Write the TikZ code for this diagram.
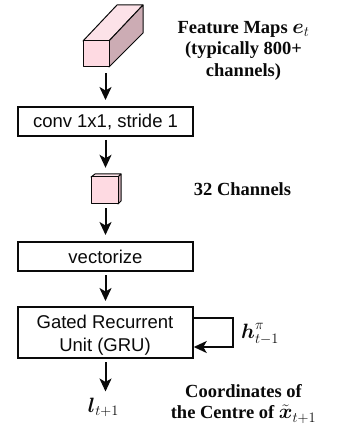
\documentclass[tikz,border=0pt]{standalone}
\usepackage{amsmath}
\usepackage{fontspec}
\setmainfont{Liberation Serif}
\setsansfont{Liberation Sans}
\usetikzlibrary{arrows.meta,calc}
\DeclareMathSizes{18.5}{20}{14}{10}
\DeclareMathSizes{21}{21}{15}{11}
\definecolor{facepink}{RGB}{254,218,226}
\definecolor{sidepink}{RGB}{204,172,180}
\definecolor{toppink}{RGB}{252,226,232}
\definecolor{inkblack}{RGB}{10,10,10}
\tikzset{
  x=1pt,y=-1pt,
  layerbox/.style={draw=inkblack,line width=2pt,fill=white,minimum width=174.5pt,inner sep=0pt,align=center,font=\sffamily\fontsize{18.5}{23}\selectfont,text=inkblack},
  boxtext/.style={inner sep=0pt,align=center,font=\sffamily\fontsize{18.5}{23}\selectfont,text=inkblack},
  flow/.style={draw=inkblack,line width=2pt,-{Stealth[length=13pt,width=12pt,inset=3.5pt]}},
  face/.style={draw=inkblack,line width=1pt,line join=round},
  note/.style={align=center,inner sep=0pt,font=\bfseries\fontsize{18.5}{21.5}\selectfont,text=inkblack},
  mathlabel/.style={font=\fontsize{21}{24}\selectfont,text=inkblack,inner sep=0pt},
}
\begin{document}
\begin{tikzpicture}
\useasboundingbox (0,0) rectangle (344,427);
\fill[white] (0,0) rectangle (344,427);
% large cuboid
\draw[face,fill=toppink] (83,41) -- (117,5) -- (143,5) -- (109,41) -- cycle;
\draw[face,fill=sidepink] (109,41) -- (143,5) -- (143,33) -- (109,67) -- cycle;
\draw[face,fill=facepink] (83,41) rectangle (109,67);
\node[inner sep=0pt,minimum width=60pt,minimum height=62pt] (bigcube) at (113,36) {};
% boxes
\node[layerbox,minimum height=29pt] (conv) at (105.5,121.5) {conv 1x1, stride 1};
% small cube
\draw[face,fill=toppink] (91,177) -- (95,174) -- (121,174) -- (118,177) -- cycle;
\draw[face,fill=sidepink] (118,177) -- (121,174) -- (121,201) -- (118,204) -- cycle;
\draw[face,fill=facepink] (91,177) rectangle (118,204);
\node[inner sep=0pt,minimum width=30pt,minimum height=30pt] (smallcube) at (106,189) {};
\node[layerbox,minimum height=29pt] (vec) at (105.5,256.5) {vectorize};
\node[layerbox,minimum height=51pt] (gru) at (105.5,332.5) {};
\node[boxtext] (grutext) at (105,335) {Gated Recurrent\\Unit (GRU)};
\node[mathlabel] (lout) at (103.5,407) {$\boldsymbol{l}_{t+1}$};
\node[mathlabel,anchor=west] (hprev) at (241,334) {$\boldsymbol{h}^{\pi}_{t-1}$};
% text
\node[note] (t1) at (243.5,50.5) {Feature Maps $\boldsymbol{e}_t$\\(typically 800+\\channels)};
\node[note] (t2) at (242.5,189) {32 Channels};
\node[note,font=\bfseries\fontsize{18.5}{21}\selectfont] (t3) at (243.5,404) {Coordinates of\\the Centre of $\tilde{\boldsymbol{x}}_{t+1}$};
% connectors
\draw[flow,shorten <=6pt,shorten >=6pt] (bigcube.south -| conv.north) -- (conv.north);
\draw[flow,shorten <=3pt,shorten >=6pt] (conv.south) -- (conv.south |- smallcube.north);
\draw[flow,shorten <=4pt,shorten >=6pt] (conv.south |- smallcube.south) -- (vec.north);
\draw[flow,shorten <=3pt,shorten >=5pt] (vec.south) -- (gru.north);
\draw[flow,shorten <=3pt,shorten >=6pt] (gru.south) -- (gru.south |- lout.north);
\coordinate (loopa) at ($(gru.east)+(0,-14.5)$);
\coordinate (loopb) at ($(gru.east)+(0,14.5)$);
\coordinate (loopx) at ($(gru.east)+(39,0)$);
\draw[flow,line join=miter] (loopa) -- (loopa -| loopx) -- (loopb -| loopx) -- (loopb);
\end{tikzpicture}
\end{document}
